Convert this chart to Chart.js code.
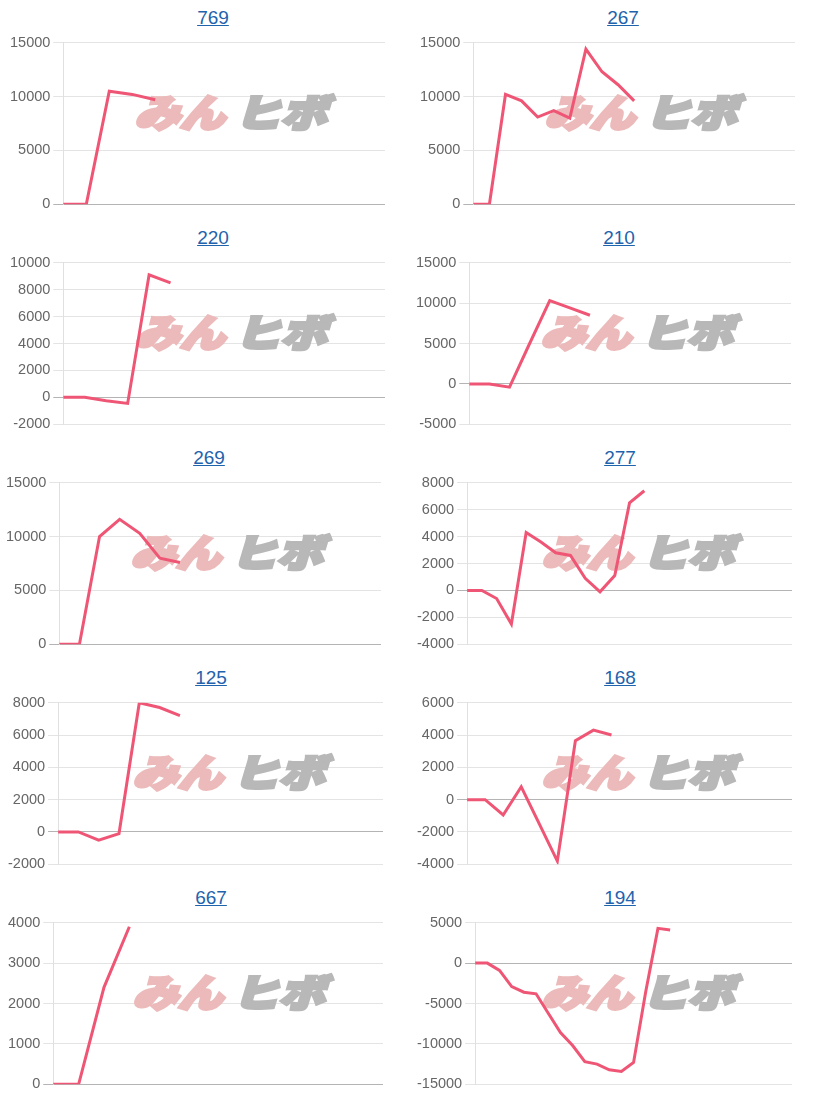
<!DOCTYPE html>
<html>
<head>
<meta charset="utf-8">
<script src="https://cdn.jsdelivr.net/npm/chart.js@4"></script>
<style>
  html, body { margin: 0; padding: 0; background: #fff; }
  #wrap { position: relative; width: 820px; height: 1100px; overflow: hidden; }
  .ttl { position: absolute; width: 426px; text-align: center; font-family: "Liberation Sans", Arial, sans-serif; font-size: 19px; line-height: 22px; }
  .ttl a { color: #1f63ad; text-decoration: underline; }
  .cv { position: absolute; }
</style>
</head>
<body>
<div id="wrap"></div>
<script>
// ---- data ----
const titles = ['769', '267', '220', '210', '269', '277', '125', '168', '667', '194'];
const slotCounts = [15, 21, 16, 17, 17, 23, 17, 19, 14, 27];
const series769 = [0, 0, 10500, 10200, 9700];
const series267 = [0, 0, 10200, 9600, 8100, 8700, 8000, 14400, 12300, 11100, 9600];
const series220 = [0, 0, -250, -450, 9100, 8500];
const series210 = [0, 0, -400, 5000, 10300, 9400, 8500];
const series269 = [0, 0, 10000, 11600, 10300, 8000, 7600];
const series277 = [0, 0, -600, -2500, 4300, 3600, 2800, 2600, 900, -100, 1100, 6500, 7400];
const series125 = [0, 0, -500, -100, 8000, 7700, 7200];
const series168 = [0, 0, -950, 800, -1500, -3800, 3650, 4300, 4000];
const series667 = [0, 0, 2400, 3900];
const series194 = [0, 0, -900, -2900, -3600, -3800, -6200, -8600, -10200, -12200, -12500, -13200, -13400, -12300, -3500, 4300, 4100];
const allSeries = [series769, series267, series220, series210, series269, series277, series125, series168, series667, series194];
const yMin = [0, 0, -2000, -5000, 0, -4000, -2000, -4000, 0, -15000];
const yMax = [15000, 15000, 10000, 15000, 15000, 8000, 8000, 6000, 4000, 5000];
const yStep = [5000, 5000, 2000, 5000, 5000, 2000, 2000, 2000, 1000, 5000];

// ---- layout (not data) ----
const panelShift = [0, 0, 0, -4, -4, -3, -2, -3, -2, -3];
const CANVAS_DX = 7, CANVAS_DY = 31, CANVAS_W = 378, CANVAS_H = 185;
const LINE_COLOR = '#ef5675';

function drawPart(ctx, text, x, y, w, color) {
  const m = ctx.measureText(text).width;
  ctx.save();
  ctx.translate(x, y);
  ctx.transform(w / m, 0, -0.3, 1, 0, 0);
  ctx.fillStyle = color;
  ctx.strokeStyle = color;
  ctx.lineWidth = 3.5;
  ctx.lineJoin = 'miter';
  ctx.strokeText(text, 0, 0);
  ctx.fillText(text, 0, 0);
  ctx.restore();
}

const watermarkPlugin = {
  id: 'watermark',
  beforeDatasetsDraw(chart) {
    const ctx = chart.ctx;
    ctx.save();
    ctx.font = '900 38px "Noto Sans CJK JP", sans-serif';
    ctx.textBaseline = 'middle';
    const cx = 235 - CANVAS_DX, cy = 113 - CANVAS_DY;
    drawPart(ctx, 'みん', cx - 96, cy, 90, 'rgb(236,186,186)');
    drawPart(ctx, 'ヒボ', cx + 4, cy, 92, 'rgb(184,184,184)');
    ctx.restore();
  }
};

const wrap = document.getElementById('wrap');
titles.forEach((t, i) => {
  const col = i % 2, row = Math.floor(i / 2);
  const left = col * 410 + panelShift[i];
  const top = row * 220;

  const ttl = document.createElement('div');
  ttl.className = 'ttl';
  ttl.style.left = left + 'px';
  ttl.style.top = (top + 7) + 'px';
  const a = document.createElement('a');
  a.href = '#';
  a.textContent = t;
  ttl.appendChild(a);
  wrap.appendChild(ttl);

  const cv = document.createElement('canvas');
  cv.className = 'cv';
  cv.width = CANVAS_W;
  cv.height = CANVAS_H;
  cv.style.left = (left + CANVAS_DX) + 'px';
  cv.style.top = (top + CANVAS_DY) + 'px';
  wrap.appendChild(cv);

  const labels = Array.from({ length: slotCounts[i] }, (_, k) => String(k + 1));

  new Chart(cv, {
    type: 'line',
    data: {
      labels: labels,
      datasets: [{
        data: allSeries[i],
        borderColor: LINE_COLOR,
        backgroundColor: LINE_COLOR,
        borderWidth: 3,
        pointRadius: 0,
        tension: 0,
        fill: false
      }]
    },
    options: {
      responsive: false,
      animation: false,
      layout: { padding: 0 },
      plugins: { legend: { display: false }, tooltip: { enabled: false }, title: { display: false } },
      scales: {
        x: { display: false },
        y: {
          min: yMin[i],
          max: yMax[i],
          ticks: {
            stepSize: yStep[i],
            color: '#666',
            padding: 3,
            font: { family: '"Liberation Sans", Arial, sans-serif', size: 14.5 },
            callback: (v) => String(v)
          },
          grid: {
            tickLength: 10,
            lineWidth: 1,
            color: (c) => (c.tick && c.tick.value === 0) ? '#b4b4b4' : '#e4e4e4'
          },
          border: { display: true, color: '#e0e0e0' }
        }
      }
    },
    plugins: [watermarkPlugin]
  });
});
</script>
</body>
</html>
